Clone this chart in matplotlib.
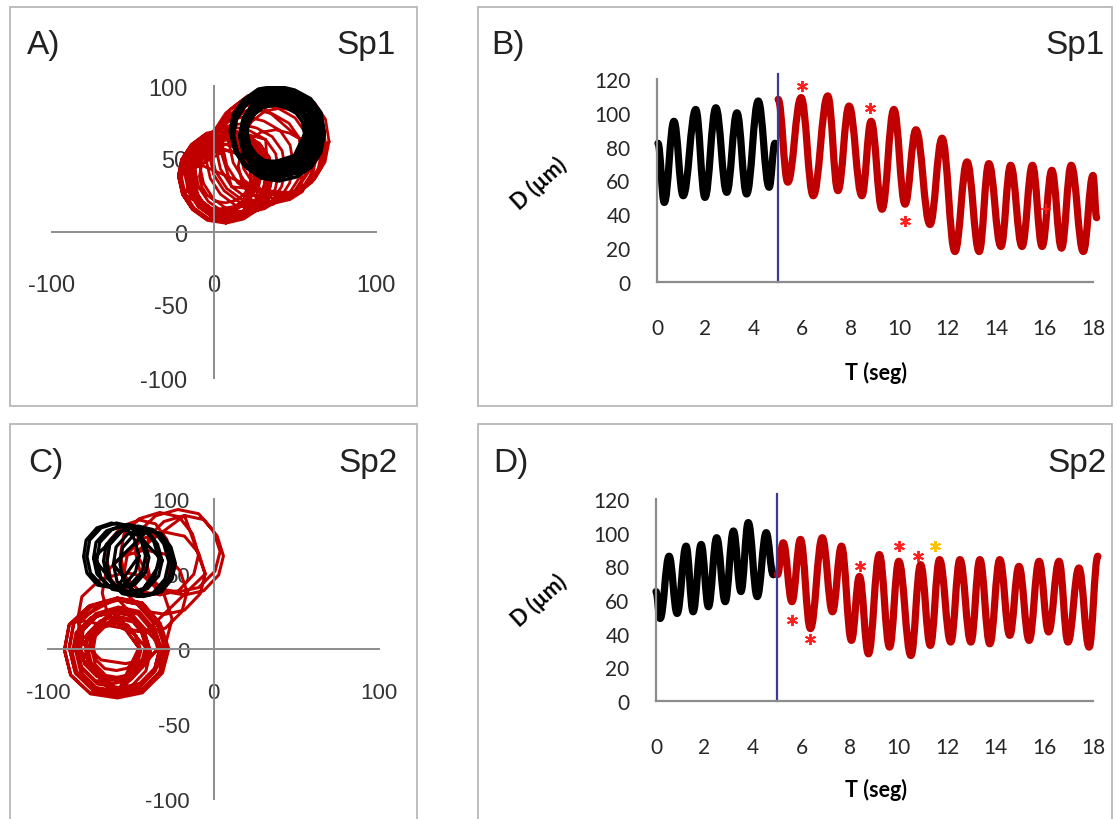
import numpy as np
import matplotlib.pyplot as plt
from matplotlib.path import Path
from matplotlib.patches import PathPatch, Rectangle

W, H = 1118, 820

# ---- panel B (Sp1): extremes of the trace
b_black_t = [0.04, 0.3, 0.7, 1.08, 1.6, 1.98, 2.43, 2.88, 3.3, 3.7, 4.18, 4.63, 4.87]
b_black_d = [82, 47, 95, 51, 102, 50, 103, 53, 100, 52, 107, 56, 82]
b_red_t = [5.0, 5.4, 5.95, 6.45, 7.05, 7.47, 7.93, 8.46, 8.84, 9.29, 9.78, 10.24,
           10.69, 11.27, 11.77, 12.3, 12.8, 13.3, 13.7, 14.2, 14.6, 15.07, 15.5,
           15.9, 16.3, 16.7, 17.1, 17.6, 18.0, 18.15]
b_red_d = [108, 59, 109, 51, 110, 54, 104, 51, 95, 43, 102, 46, 90, 34, 85, 18,
           71, 18, 70, 21, 69, 21, 69, 21, 66, 20, 69, 18, 63, 38]
b_star_t = [6.0, 8.8, 10.25]
b_star_d = [116, 103, 36]
b_cross_t = [16.06]
b_cross_d = [43]

# ---- panel D (Sp2)
d_black_t = [0.0, 0.17, 0.54, 0.87, 1.24, 1.53, 1.86, 2.16, 2.5, 2.85, 3.19, 3.5,
             3.8, 4.17, 4.54, 4.83]
d_black_d = [65, 49, 86, 52, 92, 53, 93, 56, 97, 59, 101, 65, 106, 62, 100, 75]
d_red_t = [5.0, 5.24, 5.6, 5.95, 6.36, 6.85, 7.27, 7.64, 8.05, 8.38, 8.75, 9.2,
           9.62, 10.0, 10.5, 10.9, 11.3, 11.68, 12.14, 12.52, 12.97, 13.34, 13.75,
           14.16, 14.57, 14.95, 15.37, 15.78, 16.17, 16.6, 16.97, 17.42, 17.84, 18.2]
d_red_d = [75, 94, 59, 96, 43, 97, 53, 92, 36, 74, 28, 87, 32, 83, 27, 81, 33, 84,
           35, 84, 35, 84, 34, 84, 39, 80, 36, 83, 41, 83, 35, 79, 32, 86]
d_star_t = [5.6, 6.35, 8.4, 10.0, 10.8]
d_star_d = [48, 37, 80, 92, 86]
d_ystar_t = [11.5]
d_ystar_d = [92]

# ---- panel A orbits: one loop per entry (centre x, centre y, radius x, radius y)
a_black_cx = [38, 40, 39, 41, 37, 40, 39, 38, 40, 41, 38, 39, 40, 37]
a_black_cy = [67, 68, 66, 69, 67, 66, 68, 67, 67, 66, 68, 69, 65, 66]
a_black_rx = [18, 20, 22, 24, 26, 28, 19, 21, 23, 25, 27, 29, 24, 26]
a_black_ry = [20, 22, 24, 27, 29, 31, 21, 23, 26, 28, 30, 31, 27, 29]
a_red_cx = [40, 37, 34, 31, 28, 25, 38, 42, 20, 16, 12, 9, 7, 6, 8, 5, 7, 6, 8, 5, 7, 6, 9, 4]
a_red_cy = [62, 60, 58, 56, 53, 50, 45, 55, 46, 43, 41, 39, 38, 37, 36, 39, 37, 38, 37, 36,
            38, 37, 38, 37]
a_red_rx = [31, 32, 33, 33, 31, 30, 23, 26, 29, 28, 28, 27, 29, 26, 24, 22, 20, 28, 25, 18,
            16, 27, 23, 21]
a_red_ry = [37, 37, 38, 37, 35, 34, 25, 30, 33, 31, 31, 30, 32, 29, 27, 25, 23, 31, 28, 21,
            18, 30, 26, 24]

# ---- panel C orbits
c_black_cx = [-62, -59, -56, -52, -49, -46, -43, -40]
c_black_cy = [62, 62, 61, 60, 59, 58, 57, 57]
c_black_rx = [17, 18, 17, 19, 18, 19, 18, 17]
c_black_ry = [22, 22, 21, 23, 22, 24, 23, 22]
c_red_cx = [-45, -33, -22, -18, -30, -42, -54,
            -59, -60, -58, -61, -59, -60, -58, -57, -62, -59, -60, -58, -61, -57]
c_red_cy = [60, 63, 65, 62, 50, 38, 20,
            0, 2, -2, 1, 0, -1, 1, 3, -2, 1, 0, -1, 2, 0]
c_red_rx = [20, 24, 26, 24, 25, 26, 29,
            32, 28, 25, 22, 19, 16, 30, 27, 24, 14, 31, 26, 20, 17]
c_red_ry = [26, 28, 28, 27, 28, 28, 31,
            34, 31, 28, 25, 22, 19, 33, 30, 27, 16, 33, 29, 23, 20]

# loop outlines (unit shapes)
ring16 = np.array([[1.00, 0.00], [0.93, 0.41], [0.71, 0.72], [0.37, 0.91], [0.00, 1.00],
                   [-0.40, 0.93], [-0.72, 0.69], [-0.93, 0.37], [-1.00, 0.01], [-0.91, -0.39],
                   [-0.70, -0.71], [-0.38, -0.94], [0.01, -1.00], [0.39, -0.91], [0.71, -0.70],
                   [0.92, -0.38]])
poly12 = np.array([[1.00, 0.00], [0.84, 0.50], [0.50, 0.90], [0.02, 1.00], [-0.50, 0.85],
                   [-0.88, 0.48], [-0.97, -0.02], [-0.85, -0.52], [-0.48, -0.88],
                   [0.03, -0.96], [0.50, -0.86], [0.88, -0.47]])

RED = '#c00000'
AXIS = '#8c8c8c'
BOX = '#b8b8b8'

plt.rcParams['font.family'] = ['Liberation Sans', 'DejaVu Sans']
plt.rcParams['axes.unicode_minus'] = False
fig = plt.figure(figsize=(W / 100, H / 100), dpi=100)


def rect(x0, y0, x1, y1):
    return [x0 / W, 1 - y1 / H, (x1 - x0) / W, (y1 - y0) / H]


def ftext(x, y, s, **kw):
    fig.text(x / W, 1 - y / H, s, **kw)


def box(x0, y0, x1, y1):
    fig.add_artist(Rectangle((x0 / W, 1 - y1 / H), (x1 - x0) / W, (y1 - y0) / H,
                             transform=fig.transFigure, fill=False, ec=BOX, lw=1.3))


def loops(cx, cy, rx, ry, shape):
    xs, ys = [], []
    for i, (x, y, a, b) in enumerate(zip(cx, cy, rx, ry)):
        s = np.roll(shape, 3 * i, axis=0)
        s = np.vstack([s, s[:1]])
        xs.extend(x + a * s[:, 0])
        ys.extend(y + b * s[:, 1])
    return xs, ys


def smooth(ax, t, d, color, lw=5.2):
    verts = [(t[0], d[0])]
    codes = [Path.MOVETO]
    for i in range(len(t) - 1):
        dt = t[i + 1] - t[i]
        verts += [(t[i] + 0.4 * dt, d[i]), (t[i + 1] - 0.4 * dt, d[i + 1]), (t[i + 1], d[i + 1])]
        codes += [Path.CURVE4] * 3
    ax.add_patch(PathPatch(Path(verts, codes), fill=False, ec=color, lw=lw,
                           capstyle='round', joinstyle='round', clip_on=False))


def orbit_axes(r, size, xpad, ypad):
    ax = fig.add_axes(r)
    ax.set_xlim(-100, 100)
    ax.set_ylim(-100, 100)
    ax.patch.set_alpha(0)
    for s in ['top', 'right']:
        ax.spines[s].set_visible(False)
    for s in ['left', 'bottom']:
        ax.spines[s].set_position(('data', 0))
        ax.spines[s].set_color(AXIS)
        ax.spines[s].set_linewidth(1.4)
    ax.set_xticks([-100, 0, 100])
    ax.set_yticks([-100, -50, 0, 50, 100])
    ax.tick_params(length=0, labelsize=size, labelcolor='#333333')
    ax.tick_params(axis='x', pad=xpad)
    ax.tick_params(axis='y', pad=ypad)
    return ax


def time_axes(r):
    ax = fig.add_axes(r)
    ax.set_xlim(0, 18)
    ax.set_ylim(0, 120)
    ax.patch.set_alpha(0)
    for s in ['top', 'right']:
        ax.spines[s].set_visible(False)
    for s in ['left', 'bottom']:
        ax.spines[s].set_color(AXIS)
        ax.spines[s].set_linewidth(1.6)
    ax.set_xticks(range(0, 19, 2))
    ax.set_yticks(range(0, 121, 20))
    ax.tick_params(length=0, labelsize=15, labelcolor='#262626')
    ax.tick_params(axis='x', pad=26)
    ax.tick_params(axis='y', pad=19)
    for lab in ax.get_xticklabels() + ax.get_yticklabels():
        lab.set_family(['Lato', 'DejaVu Sans'])
    ax.plot([5, 5], [0, 123], color='#3c3c96', lw=1.6, clip_on=False)
    return ax


# boxes
box(10, 8, 417, 407)
box(478, 8, 1112, 407)
box(10, 425, 417, 830)
box(478, 425, 1112, 830)

# A
axA = orbit_axes(rect(52, 87, 376, 379), 17, 30, 19)
x, y = loops(a_red_cx, a_red_cy, a_red_rx, a_red_ry, ring16)
axA.plot(x, y, color=RED, lw=2.0)
x, y = loops(a_black_cx, a_black_cy, a_black_rx, a_black_ry, ring16)
axA.plot(x, y, color='black', lw=2.6)

# C
axC = orbit_axes(rect(48, 500, 379, 800), 16, 24, 17)
x, y = loops(c_red_cx, c_red_cy, c_red_rx, c_red_ry, poly12)
axC.plot(x, y, color=RED, lw=2.2)
x, y = loops(c_black_cx, c_black_cy, c_black_rx, c_black_ry, poly12)
axC.plot(x, y, color='black', lw=2.3)

# B
axB = time_axes(rect(657, 80, 1093, 283))
smooth(axB, b_black_t, b_black_d, 'black')
smooth(axB, b_red_t, b_red_d, RED)
axB.plot(b_star_t, b_star_d, ls='none', marker=(6, 2, 0), ms=8, mew=1.4, mec='#ff2020')
axB.plot(b_cross_t, b_cross_d, ls='none', marker='+', ms=7, mew=1.2, mec='#ff2020')

# D
axD = time_axes(rect(656, 500, 1093, 702))
smooth(axD, d_black_t, d_black_d, 'black')
smooth(axD, d_red_t, d_red_d, RED)
axD.plot(d_star_t, d_star_d, ls='none', marker=(6, 2, 0), ms=8, mew=1.4, mec='#ff2020')
axD.plot(d_ystar_t, d_ystar_d, ls='none', marker=(6, 2, 0), ms=8, mew=1.4, mec='#ffc000')

# axis titles
for yc, yt in [(184, 373), (601, 790)]:
    ftext(539, yc, 'D (µm)', rotation=42, ha='center', va='center', fontsize=15.5,
          fontweight='bold', family=['Lato', 'DejaVu Sans'])
    ftext(876, yt, 'T (seg)', ha='center', va='center', fontsize=15.5,
          fontweight='bold', family=['Lato', 'DejaVu Sans'])

# panel letters
for x0, x1, yb, left, right in [(27, 396, 54, 'A)', 'Sp1'), (491, 1105, 54, 'B)', 'Sp1'),
                                (28, 398, 472, 'C)', 'Sp2'), (493, 1107, 472, 'D)', 'Sp2')]:
    ftext(x0, yb, left, ha='left', va='baseline', fontsize=24, color='#222222')
    ftext(x1, yb, right, ha='right', va='baseline', fontsize=24, color='#222222')

fig.savefig('out.png', dpi=100)
